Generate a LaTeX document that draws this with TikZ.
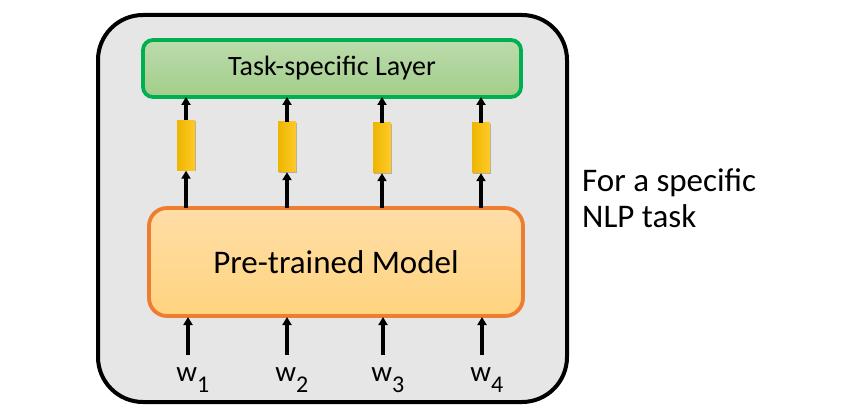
\documentclass[tikz,border=0pt]{standalone}
\usepackage{fontspec}
\setmainfont{Carlito}
\usetikzlibrary{arrows.meta,shadows}
\definecolor{bggray}{HTML}{E6E6E6}
\definecolor{greenline}{HTML}{00B050}
\definecolor{greentop}{HTML}{BCDCAC}
\definecolor{greenbot}{HTML}{A3CD8B}
\definecolor{orangeline}{HTML}{ED7D31}
\definecolor{orangetop}{HTML}{FFDDA6}
\definecolor{orangebot}{HTML}{FFD47F}
\definecolor{golddark}{HTML}{EDB600}
\definecolor{goldlight}{HTML}{FFCA28}
\tikzset{
  outerbox/.style={draw=black, line width=4pt, fill=bggray, rounded corners=45pt},
  taskbox/.style={draw=greenline, line width=3.8pt, rounded corners=10pt, top color=greentop, bottom color=greenbot},
  modelbox/.style={draw=orangeline, line width=3.8pt, rounded corners=18pt, top color=orangetop, bottom color=orangebot},
  vecbox/.style={left color=golddark, right color=goldlight, minimum width=18pt, minimum height=50pt, inner sep=0pt, drop shadow={shadow xshift=1pt, shadow yshift=-1pt, opacity=0.35, fill=black!70}},
  arr/.style={-{Triangle[length=8pt,width=9pt]}, line width=3.3pt},
  wlabel/.style={font=\fontsize{29}{32}\selectfont, inner sep=0pt},
}
\begin{document}
\begin{tikzpicture}[x=1pt,y=-1pt]
\useasboundingbox (0,0) rectangle (860,409);
\fill[white] (0,0) rectangle (860,409);
\draw[outerbox] (98,15) rectangle (567,402);
\node[taskbox, minimum width=378pt, minimum height=57pt, inner sep=0pt, font=\fontsize{28}{32}\selectfont] (task) at (332,68.5) {Task-specific Layer};
\node[modelbox, minimum width=374pt, minimum height=108pt, inner sep=0pt, font=\fontsize{33}{38}\selectfont] (model) at (336,262) {Pre-trained Model};
\foreach \i/\x/\y in {1/186/145.5, 2/287/147, 3/382/148, 4/481/148} {
  \node[vecbox] (v\i) at (\x,\y) {};
  \coordinate (mt\i) at (\x,208);
  \coordinate (tb\i) at (\x,97);
  \draw[arr] (mt\i) -- (v\i.south);
  \draw[arr] (v\i.north) -- (tb\i);
}
\foreach \i/\x in {1/188, 2/287, 3/383, 4/482} {
  \node[wlabel, anchor=base] (w\i) at (\x+5,381) {w\textsubscript{\fontsize{24}{28}\selectfont\raisebox{-8pt}{\i}}};
  \coordinate (wt\i) at (\x,355);
  \coordinate (mb\i) at (\x,317);
  \draw[arr] (wt\i) -- (mb\i);
}
\node[anchor=west, align=left, font=\fontsize{33}{36}\selectfont, inner sep=0pt] (note) at (582,198) {For a specific\\NLP task};
\end{tikzpicture}
\end{document}
